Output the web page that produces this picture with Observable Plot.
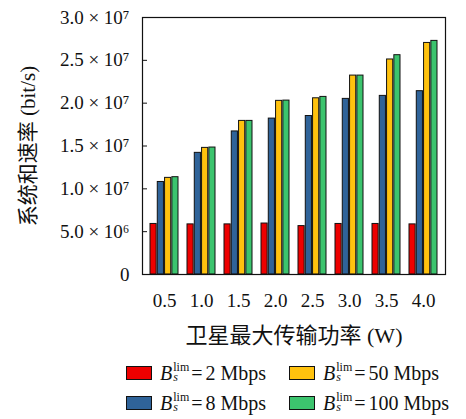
<!DOCTYPE html>
<html>
<head>
<meta charset="utf-8">
<script src="https://cdn.jsdelivr.net/npm/d3@7"></script>
<script src="https://cdn.jsdelivr.net/npm/@observablehq/plot@0.6"></script>
<style>
  body { margin: 0; background: #fff; font-family: "Liberation Serif", "Noto Sans CJK SC", serif; }
  #chart svg, #chart svg text { font-family: "Liberation Serif", "Noto Sans CJK SC", serif !important; }
  #legend { position: absolute; left: 126px; top: 358px; width: 340px; font-size: 20px; color: #111; }
  .row { display: flex; height: 30px; align-items: center; }
  .item { display: flex; align-items: center; }
  .item.c1 { width: 163px; }
  .sw { width: 24px; height: 12px; border: 1px solid #111; margin-right: 8px; }
  .B { font-style: italic; }
  .ss { display: inline-flex; flex-direction: column; font-size: 12px; line-height: 10px; margin: 0 1px 0 1px; position: relative; top: -1px; }
  .ss i { font-size: 12px; }
  .eq { margin: 0 3px 0 1px; }
</style>
</head>
<body>
<div id="chart"></div>
<div id="legend"></div>
<script>
const groups = ["0.5", "1.0", "1.5", "2.0", "2.5", "3.0", "3.5", "4.0"];
const series = ["2", "8", "50", "100"];
const seriesColors = ["#ee0000", "#2f6399", "#ffc20e", "#3cc46e"];
const rate2 = [5.9e6, 5.85e6, 5.85e6, 5.95e6, 5.65e6, 5.9e6, 5.9e6, 5.85e6];
const rate8 = [1.08e7, 1.42e7, 1.67e7, 1.82e7, 1.85e7, 2.05e7, 2.085e7, 2.14e7];
const rate50 = [1.128e7, 1.478e7, 1.793e7, 2.027e7, 2.057e7, 2.322e7, 2.51e7, 2.703e7];
const rate100 = [1.136e7, 1.482e7, 1.793e7, 2.03e7, 2.073e7, 2.322e7, 2.56e7, 2.727e7];
const yTicks = [0, 5e6, 1e7, 1.5e7, 2e7, 2.5e7, 3e7];
const yTickLabels = ["0", "5.0 × 10⁶", "1.0 × 10⁷", "1.5 × 10⁷", "2.0 × 10⁷", "2.5 × 10⁷", "3.0 × 10⁷"];

const allRates = [rate2, rate8, rate50, rate100];
const data = groups.flatMap((g, i) => series.map((s, j) => ({g, s, v: allRates[j][i]})));

const W = 466, H = 350, ML = 142, MR = 21, MT = 17, MB = 76;
const xOpts = {type: "band", domain: groups, paddingInner: 0.23, paddingOuter: 0.12};
const xs = Plot.scale({x: {...xOpts, range: [ML, W - MR]}});
const sub = xs.bandwidth / series.length;

const chart = Plot.plot({
  width: W,
  height: H,
  marginLeft: ML,
  marginRight: MR,
  marginTop: MT,
  marginBottom: MB,
  style: {fontSize: "19px", color: "#111", background: "#fff"},
  x: xOpts,
  y: {domain: [0, 3e7]},
  color: {domain: series, range: seriesColors},
  marks: [
    ...series.map((s, j) => Plot.barY(data.filter((d) => d.s === s), {
      x: "g", y: "v", fill: "s", stroke: "#111", strokeWidth: 1,
      insetLeft: j * sub, insetRight: (series.length - 1 - j) * sub
    })),
    Plot.frame({stroke: "#111", strokeWidth: 1.2}),
    Plot.axisY({ticks: yTicks, tickSize: 5, dx: 5, text: null, label: null, stroke: "#111"}),
    Plot.axisY({ticks: yTicks, tickFormat: (d) => yTickLabels[yTicks.indexOf(d)], tickSize: 0, tickPadding: 13,
      label: "系统和速率 (bit/s)", labelAnchor: "center", labelArrow: "none", labelOffset: 122, fontSize: 19}),
    Plot.axisX({tickSize: 0, tickPadding: 19, label: "卫星最大传输功率 (W)", labelAnchor: "center", labelArrow: "none", labelOffset: 68, fontSize: 19})
  ]
});
document.getElementById("chart").appendChild(chart);
chart.querySelectorAll("g[aria-label='y-axis label'] text").forEach((t) => t.setAttribute("font-size", 21));
chart.querySelectorAll("g[aria-label='x-axis label'] text").forEach((t) => t.setAttribute("font-size", 22));

const legend = document.getElementById("legend");
const order = [[0, 2], [1, 3]];
for (const r of order) {
  const row = document.createElement("div");
  row.className = "row";
  r.forEach((j, k) => {
    const it = document.createElement("div");
    it.className = "item" + (k === 0 ? " c1" : "");
    it.innerHTML = `<div class="sw" style="background:${seriesColors[j]}"></div><span class="B">B</span><span class="ss"><span>lim</span><i>s</i></span><span class="eq">=</span><span>${series[j]} Mbps</span>`;
    row.appendChild(it);
  });
  legend.appendChild(row);
}
</script>
</body>
</html>
